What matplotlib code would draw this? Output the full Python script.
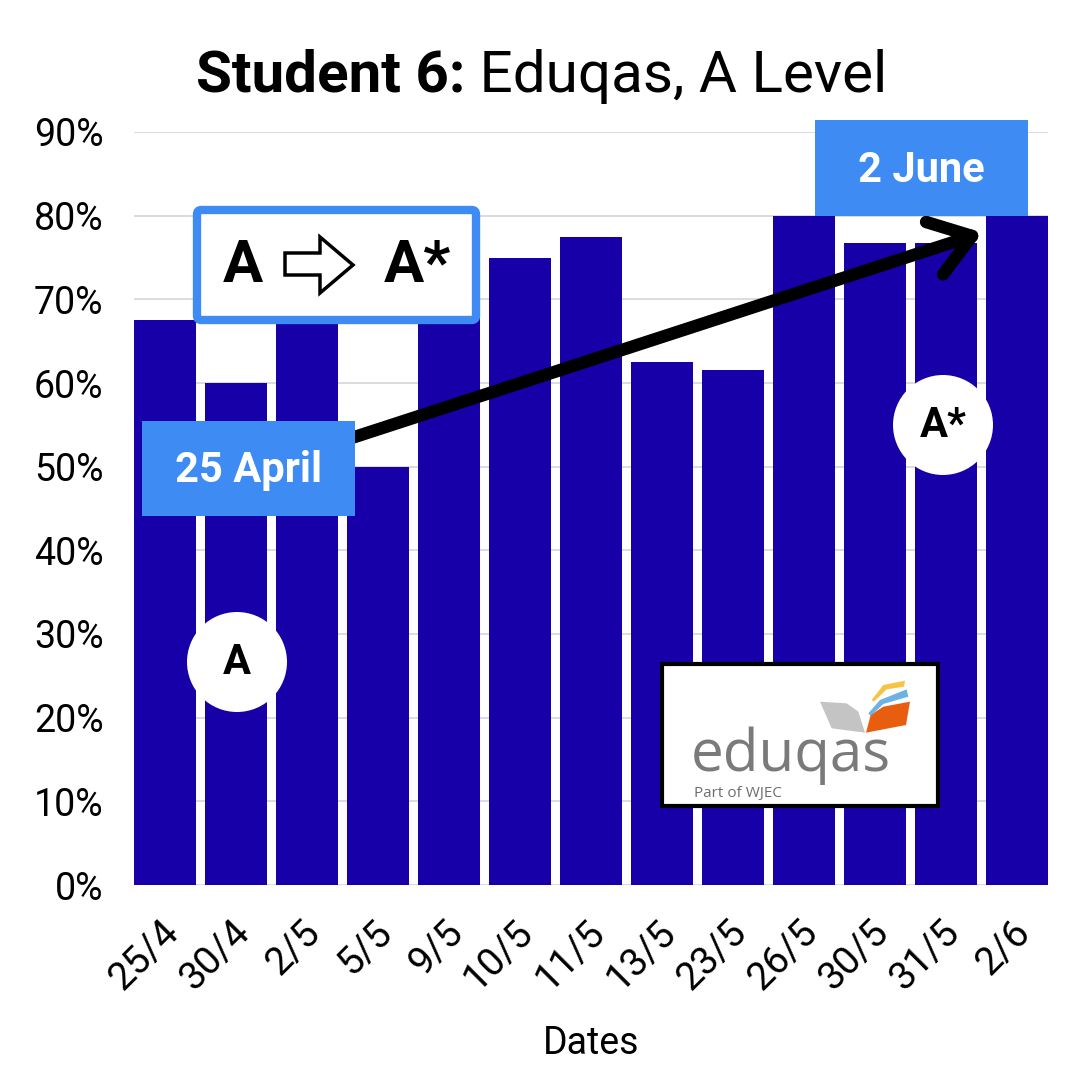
import numpy as np
import matplotlib.pyplot as plt
from matplotlib.patches import FancyBboxPatch, Rectangle, Circle, Polygon
from matplotlib.lines import Line2D
from matplotlib.ticker import PercentFormatter
from matplotlib.transforms import ScaledTranslation

plt.rcParams['font.family'] = ['Roboto', 'DejaVu Sans']

# data
dates = ['25/4', '30/4', '2/5', '5/5', '9/5', '10/5', '11/5',
         '13/5', '23/5', '26/5', '30/5', '31/5', '2/6']
scores = [67.5, 60, 70, 50, 72.5, 75, 77.5, 62.5, 61.5, 80, 76.7, 76.7, 80]

BAR = '#1700a8'
BLUE = '#3d8bf3'

fig = plt.figure(figsize=(10.8, 10.8), dpi=100)
W = 1080.0


def P(px, py):
    # pixel position (from top-left) -> figure fraction
    return (px / W, 1 - py / W)


ax = fig.add_axes([134 / W, 1 - 885 / W, 914 / W, 753 / W])
x = np.arange(len(dates))
ax.bar(x, scores, width=0.875, color=BAR, zorder=2)
ax.set_xlim(-0.4375, len(dates) - 1 + 0.4375)
ax.set_ylim(0, 90)
ax.set_yticks(np.arange(0, 91, 10))
ax.yaxis.set_major_formatter(PercentFormatter(decimals=0))
ax.grid(axis='y', color='#d6d6d6', lw=1.2, zorder=0)
ax.set_axisbelow(True)
for s in ax.spines.values():
    s.set_visible(False)
ax.tick_params(axis='y', length=0, labelsize=27, pad=22)
ax.tick_params(axis='x', length=0, labelsize=28, pad=30)
ax.set_xticks(x)
ax.set_xticklabels(dates, rotation=45, ha='right', va='center',
                   rotation_mode='anchor')
shift = ScaledTranslation(8 / 100, 0, fig.dpi_scale_trans)
for lab in ax.get_xticklabels():
    lab.set_transform(lab.get_transform() + shift)
ax.set_xlabel('Dates', fontsize=27, labelpad=20)

# title
fig.text(*P(465, 92), 'Student 6:', fontsize=42, fontweight='bold',
         ha='right', va='baseline')
fig.text(*P(465, 92), ' Eduqas, A Level', fontsize=42,
         ha='left', va='baseline')

# black arrow 25 April -> 2 June
start = np.array([330.0, 445.0])
tip = np.array([972.0, 236.0])
d = (tip - start) / np.linalg.norm(tip - start)
fig.add_artist(Line2D([start[0] / W, tip[0] / W], [1 - start[1] / W, 1 - tip[1] / W],
                      color='black', lw=9, solid_capstyle='round', zorder=3))
for ang in (35, -35):
    a = np.deg2rad(ang)
    rot = np.array([[np.cos(a), -np.sin(a)], [np.sin(a), np.cos(a)]])
    end = tip - rot @ d * 48
    fig.add_artist(Line2D([tip[0] / W, end[0] / W], [1 - tip[1] / W, 1 - end[1] / W],
                          color='black', lw=9, solid_capstyle='round', zorder=3))

# date boxes
for (x0, y0, x1, y1, txt) in [(142, 421, 355, 516, '25 April'),
                              (815, 120, 1028, 216, '2 June')]:
    fig.add_artist(Rectangle(P(x0, y1), (x1 - x0) / W, (y1 - y0) / W,
                             transform=fig.transFigure, facecolor=BLUE,
                             edgecolor='none', zorder=4))
    fig.text(*P((x0 + x1) / 2, (y0 + y1) / 2 + 2), txt, color='white',
             fontsize=30, fontweight='bold', ha='center', va='center', zorder=5)

# A => A* box
fig.add_artist(FancyBboxPatch(P(197, 320), (476 - 197) / W, (320 - 210) / W,
                              boxstyle='round,pad=0,rounding_size=0.004',
                              transform=fig.transFigure, facecolor='white',
                              edgecolor=BLUE, lw=6, zorder=4))
fig.text(*P(243, 266), 'A', fontsize=43, fontweight='bold',
         ha='center', va='center', zorder=5)
fig.text(*P(417, 266), 'A*', fontsize=43, fontweight='bold',
         ha='center', va='center', zorder=5)
arrow_pts = [(285, 253), (320, 253), (320, 237), (353, 265),
             (320, 293), (320, 275), (285, 275)]
fig.add_artist(Polygon([P(*p) for p in arrow_pts], closed=True,
                       transform=fig.transFigure, facecolor='white',
                       edgecolor='black', lw=2.5, joinstyle='miter', zorder=5))

# grade circles
for (cx, cy, g) in [(237, 662, 'A'), (943, 425, 'A*')]:
    fig.add_artist(Circle(P(cx, cy), 50 / W, transform=fig.transFigure,
                          facecolor='white', edgecolor='none', zorder=4))
    fig.text(*P(cx, cy), g, fontsize=30, fontweight='bold',
             ha='center', va='center', zorder=5)

# eduqas logo
fig.add_artist(Rectangle(P(662, 806), (938 - 662) / W, (806 - 664) / W,
                         transform=fig.transFigure, facecolor='white',
                         edgecolor='black', lw=3, zorder=4))


def Z(zx, zy):
    return P(650 + zx / 3, 650 + zy / 3)


grey_pg = [(510, 155), (590, 160), (625, 185), (645, 248), (545, 235)]
orange_pg = [(648, 248), (662, 195), (700, 170), (780, 155), (768, 225)]
blue_pg = [(655, 190), (690, 150), (770, 118), (775, 140), (700, 162), (662, 198)]
yellow_pg = [(665, 150), (700, 105), (765, 92), (762, 110), (710, 118), (672, 155)]
for pts, col in [(grey_pg, '#c4c4c4'), (orange_pg, '#e95d0f'),
                 (blue_pg, '#6cb3e4'), (yellow_pg, '#f6c343')]:
    fig.add_artist(Polygon([Z(*p) for p in pts], closed=True,
                           transform=fig.transFigure, facecolor=col,
                           edgecolor='none', zorder=5))
fig.text(*P(691, 771), 'eduqas', fontsize=42, color='#7a7a7a',
         family=['Open Sans', 'DejaVu Sans'], ha='left', va='baseline', zorder=5)
fig.text(*P(694, 797), 'Part of WJEC', fontsize=11, color='#6d6d6d',
         family=['Open Sans', 'DejaVu Sans'], ha='left', va='baseline', zorder=5)

fig.savefig('out.png', dpi=100)
